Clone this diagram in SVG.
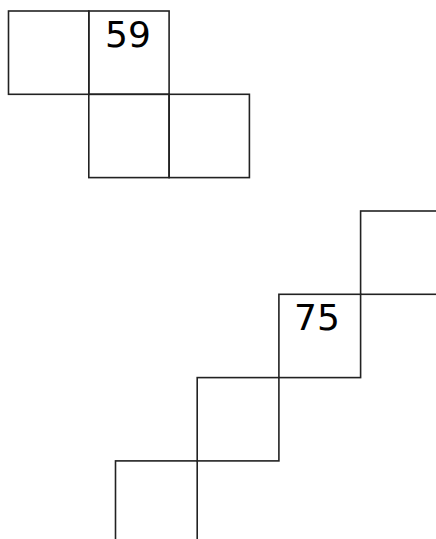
<svg xmlns="http://www.w3.org/2000/svg" width="436" height="539" viewBox="0 0 436 539">
<style>
.c{fill:none;stroke:#222;stroke-width:1.6}
.t{font-family:"DejaVu Sans",sans-serif;font-size:36px;fill:#000;text-anchor:middle}
</style>
<rect width="436" height="539" fill="#fff"/>
<g id="top-a"><rect class="c" x="8.5" y="11" width="80.3" height="83.3"/></g>
<g id="top-b"><rect class="c" x="88.8" y="11" width="80.3" height="83.3"/><text class="t" x="128" y="47">59</text></g>
<g id="top-c"><rect class="c" x="88.8" y="94.3" width="80.3" height="83.3"/></g>
<g id="top-d"><rect class="c" x="169.1" y="94.3" width="80.3" height="83.3"/></g>
<g id="bot-a"><rect class="c" x="360.6" y="211" width="81.7" height="83.3"/></g>
<g id="bot-b"><rect class="c" x="278.9" y="294.3" width="81.7" height="83.3"/><text class="t" x="317" y="330">75</text></g>
<g id="bot-c"><rect class="c" x="197.2" y="377.6" width="81.7" height="83.3"/></g>
<g id="bot-d"><rect class="c" x="115.5" y="460.9" width="81.7" height="83.3"/></g>
</svg>
